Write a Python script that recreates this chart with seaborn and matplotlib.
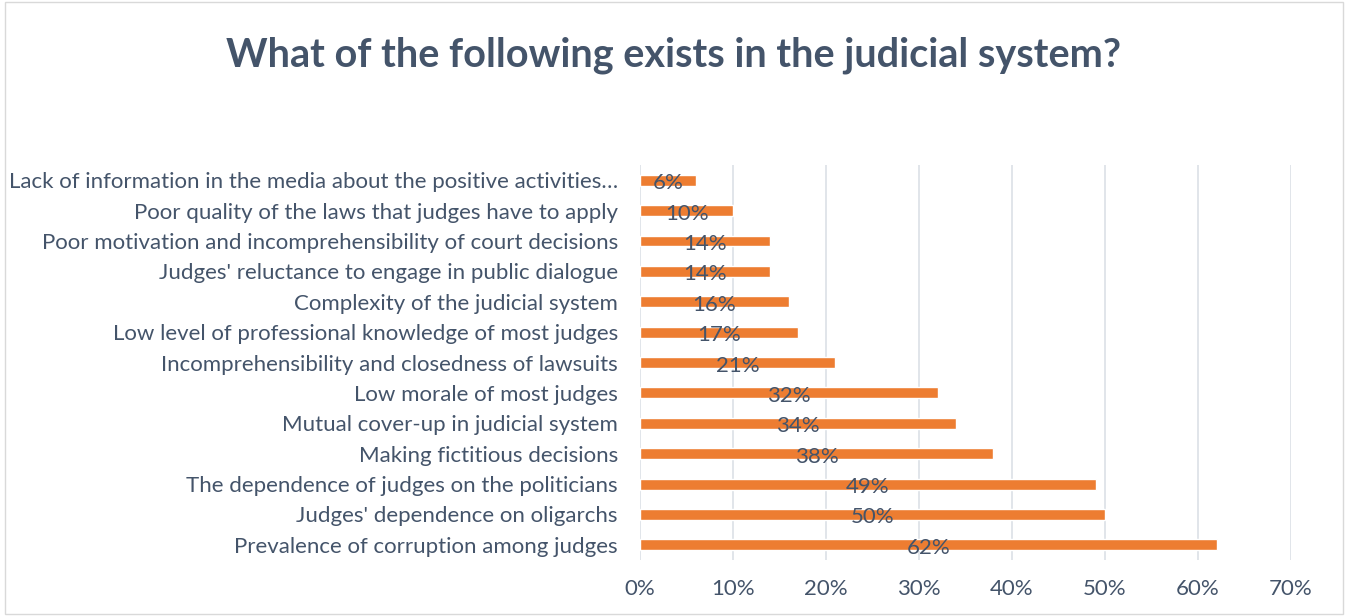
import matplotlib
matplotlib.use("Agg")
import matplotlib.pyplot as plt
import seaborn as sns
import pandas as pd

# 데이터
categories = [
    "Lack of information in the media about the positive activities…",
    "Poor quality of the laws that judges have to apply",
    "Poor motivation and incomprehensibility of court decisions",
    "Judges' reluctance to engage in public dialogue",
    "Complexity of the judicial system",
    "Low level of professional knowledge of most judges",
    "Incomprehensibility and closedness of lawsuits",
    "Low morale of most judges",
    "Mutual cover-up in judicial system",
    "Making fictitious decisions",
    "The dependence of judges on the politicians",
    "Judges' dependence on oligarchs",
    "Prevalence of corruption among judges",
]
values = [6, 10, 14, 14, 16, 17, 21, 32, 34, 38, 49, 50, 62]
x_ticks = [0, 10, 20, 30, 40, 50, 60, 70]

df = pd.DataFrame({"item": categories, "pct": values})

sns.set_style("white")
plt.rcParams["font.family"] = ["Lato", "DejaVu Sans"]

TEXT = "#44546A"
BAR = "#ED7D31"

fig = plt.figure(figsize=(13.48, 6.16), dpi=100)
ax = fig.add_axes([0.4748, 0.0909, 0.4829, 0.6412])

sns.barplot(data=df, x="pct", y="item", color=BAR, width=0.36,
            saturation=1, ax=ax, zorder=3)

for i, v in enumerate(values):
    ax.text(v / 2, i + 0.1, f"{v}%", ha="center", va="center",
            fontsize=16, color=TEXT, zorder=4)

ax.set_xlim(0, 70)
ax.set_xticks(x_ticks)
ax.set_xticklabels([f"{t}%" for t in x_ticks])
ax.tick_params(axis="x", labelsize=16, colors=TEXT, length=0, pad=14)
ax.tick_params(axis="y", labelsize=16, colors=TEXT, length=0, pad=16)
ax.set_xlabel("")
ax.set_ylabel("")
ax.grid(axis="x", color="#DCE0E6", linewidth=1.2, zorder=0)
for s in ax.spines.values():
    s.set_visible(False)

fig.text(0.5, 0.911, "What of the following exists in the judicial system?",
         ha="center", va="center", fontsize=28.5, fontweight="bold", color=TEXT)

# 차트 테두리
border = plt.Rectangle((0.004, 0.004), 0.992, 0.992, transform=fig.transFigure,
                       fill=False, edgecolor="#D9D9D9", linewidth=1)
fig.patches.append(border)

fig.savefig("out.png", dpi=100)
